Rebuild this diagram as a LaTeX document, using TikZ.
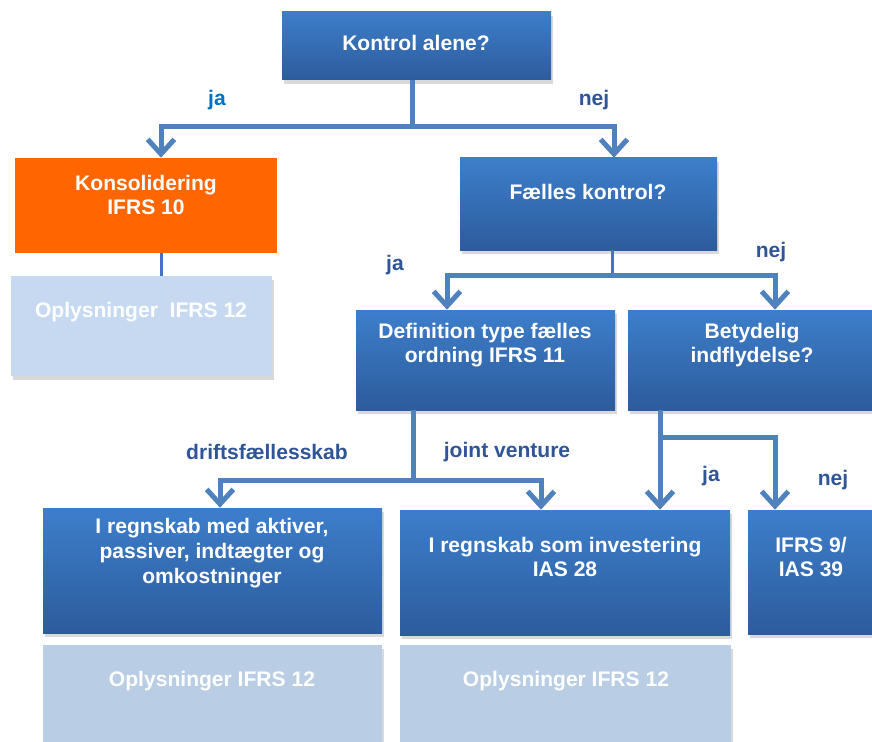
\documentclass[tikz,border=0pt]{standalone}
\usepackage{fontspec}
\setmainfont{Liberation Sans}
\usepackage{tikz}
\usetikzlibrary{arrows.meta,shadows}
\definecolor{boxtop}{HTML}{3D7ECB}
\definecolor{boxbot}{HTML}{2C5C9C}
\definecolor{konsorange}{HTML}{FF6600}
\definecolor{oplyA}{HTML}{C6D9F1}
\definecolor{oplyB}{HTML}{B9CDE5}
\definecolor{linkblue}{HTML}{4F81BD}
\definecolor{stemblue}{HTML}{4472C4}
\definecolor{jablue}{HTML}{0070C0}
\definecolor{labblue}{HTML}{2F5597}

\begin{document}
\begin{tikzpicture}[x=0.75pt,y=-0.75pt,>={Straight Barb[length=11pt,width=20pt]}]
    \tikzstyle{every node}+=[inner sep=0pt]
    \tikzstyle{qbox}=[rectangle, top color=boxtop, bottom color=boxbot, drop shadow={shadow xshift=1.5pt, shadow yshift=-3pt, opacity=0.3}]
    \tikzstyle{obox}=[rectangle, fill=konsorange]
    \tikzstyle{lbox}=[rectangle, drop shadow={shadow xshift=1.5pt, shadow yshift=-3pt, opacity=0.3}]
    \tikzstyle{txt}=[text=white, align=center, font=\fontsize{15.8}{18.5}\selectfont\bfseries]
    \tikzstyle{lab}=[text=labblue, font=\fontsize{15.8}{18.5}\selectfont\bfseries]
    \tikzstyle{link}=[draw=linkblue, line width=3.75pt]
    \tikzstyle{stem}=[draw=stemblue, line width=2.25pt]
    \useasboundingbox (0,0) rectangle (872,742);
    % boxes
    \node [qbox, minimum width=201.75pt, minimum height=51pt] (kontrol) at (416.5,46) {};
    \node [obox, minimum width=196.5pt, minimum height=71.25pt] (kons) at (146,205.5) {};
    \node [lbox, fill=oplyA, minimum width=195.75pt, minimum height=75pt] (oply1) at (141.5,326) {};
    \node [qbox, minimum width=192.75pt, minimum height=69pt] (faelles) at (588.5,204) {};
    \node [qbox, minimum width=194.25pt, minimum height=75pt] (def) at (485.5,360) {};
    \node [qbox, minimum width=183pt, minimum height=75pt] (bet) at (750,360) {};
    \node [qbox, minimum width=254.25pt, minimum height=93.75pt] (reg1) at (212.5,570.5) {};
    \node [qbox, minimum width=247.5pt, minimum height=93.75pt] (reg2) at (565,572.5) {};
    \node [qbox, minimum width=93pt, minimum height=93pt] (ifrs9) at (810,572) {};
    \node [lbox, fill=oplyB, minimum width=254.25pt, minimum height=72.75pt] (oply2) at (212.5,693.5) {};
    \node [lbox, fill=oplyB, minimum width=248.25pt, minimum height=72.75pt] (oply3) at (565.5,693.5) {};
    % box texts
    \node [txt] (kontrol-t) at (416,43) {Kontrol alene?};
    \node [txt] (kons-t) at (146,195) {Konsolidering\\IFRS 10};
    \node [txt] (oply1-t) at (141,312) {Oplysninger\ \ IFRS 12};
    \node [txt] (faelles-t) at (588,192) {Fælles kontrol?};
    \node [txt] (def-t) at (485,345) {Definition type fælles\\ordning IFRS 11};
    \node [txt] (bet-t) at (752,345) {Betydelig\\indflydelse?};
    \node [txt] (reg1-t) at (212,553) {I regnskab med aktiver,\\passiver, indtægter og\\omkostninger};
    \node [txt] (reg2-t) at (565,557) {I regnskab som investering\\IAS 28};
    \node [txt] (ifrs9-t) at (811,557) {IFRS 9/\\IAS 39};
    \node [txt] (oply2-t) at (212,681) {Oplysninger IFRS 12};
    \node [txt] (oply3-t) at (566,681) {Oplysninger IFRS 12};
    % branch points
    \coordinate (k1) at (412,127);
    \coordinate (j1) at (161,127);
    \coordinate (n1) at (614,127);
    \coordinate (f2) at (612,275);
    \coordinate (j2) at (447,275);
    \coordinate (n2) at (775,275);
    \coordinate (d3) at (413,480);
    \coordinate (j3) at (220,480);
    \coordinate (n3) at (541,480);
    \coordinate (b4) at (660,437);
    \coordinate (n4) at (775,437);
    % connectors
    \draw [link] (kontrol.south -| k1) -- (k1);
    \draw [link,<->] (kons.north -| j1) -- (j1) -- (n1) -- (faelles.north -| n1);
    \draw [stem] (kons.south -| j1) -- (oply1.north -| j1);
    \draw [stem] (faelles.south -| f2) -- (f2);
    \draw [link,<->] (def.north -| j2) -- (j2) -- (n2) -- (bet.north -| n2);
    \draw [link] (def.south -| d3) -- (d3);
    \draw [link,<->] (reg1.north -| j3) -- (j3) -- (n3) -- (reg2.north -| n3);
    \draw [link,->] (bet.south -| b4) -- (reg2.north -| b4);
    \draw [link,->] (b4) -- (n4) -- (ifrs9.north -| n4);
    % labels
    \node [lab, text=jablue] (ja1) at (217,100) {ja};
    \node [lab] (nej1) at (594,100) {nej};
    \node [lab] (ja2) at (395,265) {ja};
    \node [lab] (nej2) at (771,252) {nej};
    \node [lab] (drift) at (267,452) {driftsfællesskab};
    \node [lab] (jv) at (507,452) {joint venture};
    \node [lab] (ja3) at (711,476) {ja};
    \node [lab] (nej3) at (833,480) {nej};
\end{tikzpicture}
\end{document}
